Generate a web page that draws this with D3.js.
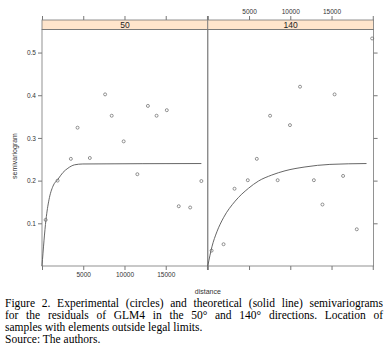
<!DOCTYPE html>
<html>
<head>
<meta charset="utf-8">
<script src="https://cdn.jsdelivr.net/npm/d3@7"></script>
<style>
  body { margin: 0; background: #fff; }
  svg text { font-family: "Liberation Sans", Arial, sans-serif; }
  .caption {
    position: absolute; left: 5px; top: 297px; width: 378px;
    font-family: "Liberation Serif", "Times New Roman", serif;
    font-size: 11.5px; line-height: 12px; color: #000;
  }
  .caption .just { text-align: justify; text-align-last: justify; white-space: nowrap; }
</style>
</head>
<body>
<script>
const WIDTH = 385;
const HEIGHT = 360;

// panel titles (direction, degrees)
var directions = ['50', '140'];

// experimental semivariogram, 50 degrees
var dist50 = [440, 1890, 3500, 4310, 5800, 7650, 8450, 9900, 11560, 12840, 13890, 15130, 16580, 17960, 19320];
var gamma50 = [0.108, 0.200, 0.251, 0.324, 0.253, 0.402, 0.352, 0.292, 0.215, 0.375, 0.352, 0.365, 0.140, 0.137, 0.199];

// experimental semivariogram, 140 degrees
var dist140 = [460, 1910, 3240, 4850, 5940, 7550, 8470, 9960, 11180, 12860, 13900, 15370, 16400, 18060, 19920];
var gamma140 = [0.036, 0.051, 0.181, 0.201, 0.251, 0.352, 0.201, 0.330, 0.420, 0.201, 0.144, 0.402, 0.211, 0.086, 0.533];

// fitted model line
var modelDist50 = [0, 480, 845, 1330, 1930, 2540, 3140, 3950, 4950, 19320];
var modelGamma50 = [0, 0.108, 0.155, 0.187, 0.203, 0.219, 0.229, 0.237, 0.239, 0.240];
var modelDist140 = [0, 500, 1100, 1900, 3320, 4930, 6140, 7750, 9360, 11780, 14800, 19240];
var modelGamma140 = [0, 0.045, 0.080, 0.113, 0.152, 0.182, 0.199, 0.213, 0.223, 0.232, 0.238, 0.240];

var xTicks = [0, 5000, 10000, 15000, 20000];
var xLabels = [5000, 10000, 15000];
var yTicks = [0.1, 0.2, 0.3, 0.4, 0.5];

var captionJustified = [
    'Figure 2. Experimental (circles) and theoretical (solid line) semivariograms',
    'for the residuals of GLM4 in the 50° and 140° directions. Location of'
];
var captionPlain = [
    'samples with elements outside legal limits.',
    'Source: The authors.'
];

var panelLeft = 42;
var panelWidth = 165.8;
var panelTop = 29.5;
var panelBottom = 266;
var stripTop = 20;
var grey = '#777';

var svg = d3.select('body').append('svg')
    .attr('width', WIDTH)
    .attr('height', HEIGHT)
    .style('position', 'absolute')
    .style('left', 0)
    .style('top', 0);

var yScale = d3.scaleLinear()
    .domain([0, 0.554])
    .range([panelBottom, panelTop]);

var panels = [
    {dist: dist50, gamma: gamma50, mDist: modelDist50, mGamma: modelGamma50},
    {dist: dist140, gamma: gamma140, mDist: modelDist140, mGamma: modelGamma140}
];

var fmt = function (d) {
    return xLabels.indexOf(d) >= 0 ? d : '';
};

var styleAxis = function (g) {
    g.select('.domain').remove();
    g.selectAll('.tick line').attr('stroke', grey);
    g.selectAll('.tick text').attr('fill', '#333').style('font-size', '6.5px');
};

panels.forEach(function (p, i) {
    var x0 = panelLeft + i * panelWidth;
    var xScale = d3.scaleLinear()
        .domain([0, 20100])
        .range([x0, x0 + panelWidth]);

    // strip
    svg.append('rect')
        .attr('x', x0).attr('y', stripTop)
        .attr('width', panelWidth).attr('height', panelTop - stripTop)
        .attr('fill', '#ffe5cc')
        .attr('stroke', grey).attr('stroke-width', 0.8);
    svg.append('text')
        .attr('x', x0 + panelWidth / 2).attr('y', panelTop - 2)
        .attr('text-anchor', 'middle')
        .style('font-size', '8.5px')
        .attr('fill', '#222')
        .text(directions[i]);

    // panel box
    svg.append('rect')
        .attr('x', x0).attr('y', panelTop)
        .attr('width', panelWidth).attr('height', panelBottom - panelTop)
        .attr('fill', 'none')
        .attr('stroke', grey).attr('stroke-width', 0.8);

    // bottom axis: labels on left panel only
    var bottom = d3.axisBottom(xScale).tickValues(xTicks).tickSize(4).tickPadding(2)
        .tickFormat(i === 0 ? fmt : function () { return ''; });
    svg.append('g')
        .attr('transform', 'translate(0,' + panelBottom + ')')
        .call(bottom)
        .call(styleAxis);

    // top axis: labels on right panel only
    var top = d3.axisTop(xScale).tickValues(xTicks).tickSize(4).tickPadding(2)
        .tickFormat(i === 1 ? fmt : function () { return ''; });
    svg.append('g')
        .attr('transform', 'translate(0,' + stripTop + ')')
        .call(top)
        .call(styleAxis);

    // model line
    var line = d3.line()
        .x(function (d) { return xScale(p.mDist[d]); })
        .y(function (d) { return yScale(p.mGamma[d]); })
        .curve(d3.curveMonotoneX);
    svg.append('path')
        .attr('d', line(d3.range(p.mDist.length)))
        .attr('fill', 'none')
        .attr('stroke', '#555')
        .attr('stroke-width', 0.9);

    // experimental points
    svg.append('g').selectAll('circle')
        .data(d3.range(p.dist.length))
        .enter()
        .append('circle')
        .attr('cx', function (d) { return xScale(p.dist[d]); })
        .attr('cy', function (d) { return yScale(p.gamma[d]); })
        .attr('r', 1.5)
        .attr('fill', 'none')
        .attr('stroke', '#666')
        .attr('stroke-width', 0.7);
});

// left axis with labels
svg.append('g')
    .attr('transform', 'translate(' + panelLeft + ',0)')
    .call(d3.axisLeft(yScale).tickValues(yTicks).tickSize(4).tickPadding(2).tickFormat(d3.format('.1f')))
    .call(styleAxis);

// right axis, ticks only
svg.append('g')
    .attr('transform', 'translate(' + (panelLeft + 2 * panelWidth) + ',0)')
    .call(d3.axisRight(yScale).tickValues(yTicks).tickSize(4).tickFormat(function () { return ''; }))
    .call(styleAxis);

svg.append('text')
    .attr('transform', 'translate(17,156) rotate(-90)')
    .attr('text-anchor', 'middle')
    .style('font-size', '7px')
    .attr('fill', '#333')
    .text('semivariogram');

svg.append('text')
    .attr('x', panelLeft + panelWidth)
    .attr('y', 294)
    .attr('text-anchor', 'middle')
    .style('font-size', '7px')
    .attr('fill', '#333')
    .text('distance');

var caption = d3.select('body').append('div').attr('class', 'caption');
captionJustified.forEach(function (t) {
    caption.append('div').attr('class', 'just').text(t);
});
captionPlain.forEach(function (t) {
    caption.append('div').text(t);
});
</script>
</body>
</html>
